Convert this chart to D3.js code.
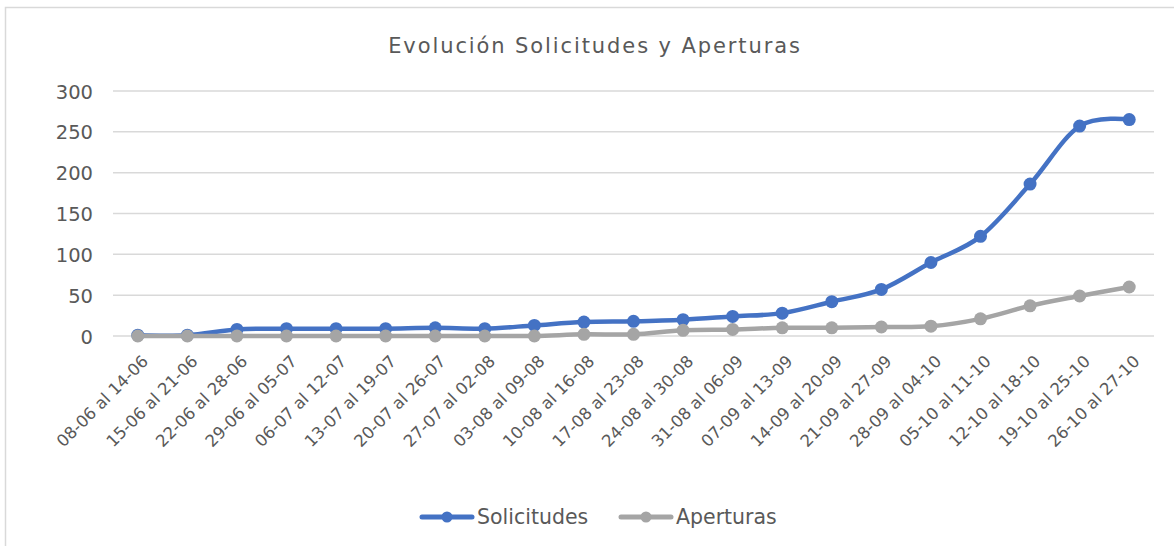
<!DOCTYPE html>
<html>
<head>
<meta charset="utf-8">
<script src="https://cdn.jsdelivr.net/npm/d3@7.9.0/dist/d3.min.js"></script>
<style>
  html, body { margin: 0; padding: 0; background: #fff; }
  svg text { font-family: "DejaVu Sans", sans-serif; fill: #595959; }
</style>
</head>
<body>
<div id="chart"></div>
<script>
const categories = [
  "08-06 al 14-06", "15-06 al 21-06", "22-06 al 28-06", "29-06 al 05-07",
  "06-07 al 12-07", "13-07 al 19-07", "20-07 al 26-07", "27-07 al 02-08",
  "03-08 al 09-08", "10-08 al 16-08", "17-08 al 23-08", "24-08 al 30-08",
  "31-08 al 06-09", "07-09 al 13-09", "14-09 al 20-09", "21-09 al 27-09",
  "28-09 al 04-10", "05-10 al 11-10", "12-10 al 18-10", "19-10 al 25-10",
  "26-10 al 27-10"
];
const solicitudes = [1, 1, 8, 9, 9, 9, 10, 9, 13, 17, 18, 20, 24, 28, 42, 57, 90, 122, 186, 257, 265];
const aperturas   = [0, 0, 0, 0, 0, 0, 0, 0, 0, 2, 2, 7, 8, 10, 10, 11, 12, 21, 37, 49, 60];
const yTicks = [0, 50, 100, 150, 200, 250, 300];

const series = [
  {name: "Solicitudes", values: solicitudes, color: "#4472C4"},
  {name: "Aperturas",   values: aperturas,   color: "#A5A5A5"}
];

const width = 1174, height = 546;
const plot = {left: 113, right: 1154, top: 91, bottom: 336};
const FONT = "\"DejaVu Sans\", sans-serif";

const svg = d3.select("#chart").append("svg")
  .attr("width", width)
  .attr("height", height);

// chart frame (only top and left edges show in the picture)
svg.append("path")
  .attr("d", `M5.5,${height} V7.5 H${width}`)
  .attr("fill", "none")
  .attr("stroke", "#D9D9D9")
  .attr("stroke-width", 1.5);

svg.append("text")
  .attr("x", 595)
  .attr("y", 53)
  .attr("text-anchor", "middle")
  .style("font-size", "21px")
  .style("letter-spacing", "1.9px")
  .text("Evolución Solicitudes y Aperturas");

const x = d3.scaleBand()
  .domain(categories)
  .range([plot.left, plot.right]);

const y = d3.scaleLinear()
  .domain([0, 300])
  .range([plot.bottom, plot.top]);

// gridlines
svg.append("g")
  .selectAll("line")
  .data(yTicks).join("line")
  .attr("x1", plot.left)
  .attr("x2", plot.right)
  .attr("y1", d => y(d))
  .attr("y2", d => y(d))
  .attr("stroke", "#D9D9D9")
  .attr("stroke-width", 1.5);

// y axis labels
const yAxis = svg.append("g")
  .attr("transform", `translate(${plot.left - 20},0)`)
  .call(d3.axisLeft(y).tickValues(yTicks).tickSize(0).tickPadding(0));
yAxis.select(".domain").remove();
yAxis.selectAll("text")
  .style("font-size", "19.5px")
  .style("font-family", FONT)
  .attr("fill", "#595959")
  .attr("dy", "0.36em");

// x axis labels, rotated
const xAxis = svg.append("g")
  .attr("transform", `translate(0,${plot.bottom})`)
  .call(d3.axisBottom(x).tickSize(0).tickPadding(0));
xAxis.select(".domain").remove();
xAxis.selectAll("text")
  .style("font-size", "16.5px")
  .style("font-family", FONT)
  .attr("fill", "#595959")
  .attr("text-anchor", "end")
  .attr("dy", "0.72em")
  .attr("y", 0)
  .attr("transform", "translate(3,18) rotate(-45)");

const cx = i => x(categories[i]) + x.bandwidth() / 2;

const line = d3.line()
  .x((d, i) => cx(i))
  .y(d => y(d))
  .curve(d3.curveCatmullRom.alpha(0));

series.forEach(s => {
  const g = svg.append("g");
  g.append("path")
    .datum(s.values)
    .attr("fill", "none")
    .attr("stroke", s.color)
    .attr("stroke-width", 4.5)
    .attr("stroke-linejoin", "round")
    .attr("stroke-linecap", "round")
    .attr("d", line);
  g.selectAll("circle")
    .data(s.values).join("circle")
    .attr("cx", (d, i) => cx(i))
    .attr("cy", d => y(d))
    .attr("r", 6.5)
    .attr("fill", s.color);
});

// legend
const legendItems = [
  {name: "Solicitudes", color: "#4472C4", x: 420},
  {name: "Aperturas",   color: "#A5A5A5", x: 619}
];
const legend = svg.append("g").attr("transform", "translate(0,517)");
legendItems.forEach(it => {
  const g = legend.append("g").attr("transform", `translate(${it.x},0)`);
  g.append("line")
    .attr("x1", 2).attr("x2", 52)
    .attr("stroke", it.color)
    .attr("stroke-width", 5)
    .attr("stroke-linecap", "round");
  g.append("circle")
    .attr("cx", 27).attr("r", 5.5)
    .attr("fill", it.color);
  g.append("text")
    .attr("x", 57)
    .attr("dy", "0.36em")
    .style("font-size", "20.5px")
    .text(it.name);
});
</script>
</body>
</html>
